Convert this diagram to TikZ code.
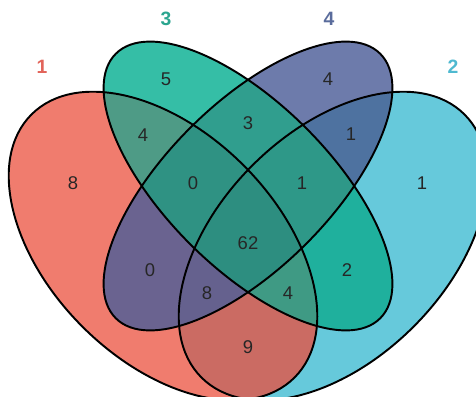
\documentclass[tikz,border=0pt]{standalone}
\usepackage{fontspec}
\setmainfont{Liberation Sans}
\usetikzlibrary{calc}

\definecolor{colone}{HTML}{F07C6E}
\definecolor{coltwo}{HTML}{66C9DB}
\definecolor{colthree}{HTML}{35BEA6}
\definecolor{colfour}{HTML}{6D7BAB}
\definecolor{colot}{HTML}{CB6B63}
\definecolor{coloth}{HTML}{4E9B86}
\definecolor{colof}{HTML}{6A6390}
\definecolor{coltth}{HTML}{1FB09D}
\definecolor{coltf}{HTML}{4E72A0}
\definecolor{colthf}{HTML}{309E8E}
\definecolor{colotth}{HTML}{3F9A84}
\definecolor{colotf}{HTML}{65618E}
\definecolor{colothf}{HTML}{2F9283}
\definecolor{coltthf}{HTML}{2E9888}
\definecolor{colall}{HTML}{2D8E80}
\definecolor{labone}{HTML}{E2645A}
\definecolor{labtwo}{HTML}{4FB9D0}
\definecolor{labthree}{HTML}{2AA58F}
\definecolor{labfour}{HTML}{5A6C9C}

\newcommand{\vennone}[1]{\path[#1, rotate around={-45:(163,-246)}] (163,-246) ellipse (186 and 114);}
\newcommand{\venntwo}[1]{\path[#1, rotate around={45:(333,-246)}] (333,-246) ellipse (186 and 114);}
\newcommand{\vennthree}[1]{\path[#1, rotate around={-45:(248,-186)}] (248,-186) ellipse (187 and 82);}
\newcommand{\vennfour}[1]{\path[#1, rotate around={45:(248,-186)}] (248,-186) ellipse (187 and 82);}

\begin{document}
\begin{tikzpicture}[x=0.02cm, y=0.02cm,
  every node/.style={font=\fontsize{10.5}{12}\selectfont, text=black!85},
  setlabel/.style={font=\fontsize{11}{12}\selectfont\bfseries}]
\useasboundingbox (0,0) rectangle (476,-396);
\vennone{fill=colone}
\venntwo{fill=coltwo}
\vennthree{fill=colthree}
\vennfour{fill=colfour}
\begin{scope} \vennone{clip} \venntwo{fill=colot} \end{scope}
\begin{scope} \vennone{clip} \vennthree{fill=coloth} \end{scope}
\begin{scope} \vennone{clip} \vennfour{fill=colof} \end{scope}
\begin{scope} \venntwo{clip} \vennthree{fill=coltth} \end{scope}
\begin{scope} \venntwo{clip} \vennfour{fill=coltf} \end{scope}
\begin{scope} \vennthree{clip} \vennfour{fill=colthf} \end{scope}
\begin{scope} \vennone{clip} \venntwo{clip} \vennthree{fill=colotth} \end{scope}
\begin{scope} \vennone{clip} \venntwo{clip} \vennfour{fill=colotf} \end{scope}
\begin{scope} \vennone{clip} \vennthree{clip} \vennfour{fill=colothf} \end{scope}
\begin{scope} \venntwo{clip} \vennthree{clip} \vennfour{fill=coltthf} \end{scope}
\begin{scope} \vennone{clip} \venntwo{clip} \vennthree{clip} \vennfour{fill=colall} \end{scope}
\foreach \v in {\vennone,\venntwo,\vennthree,\vennfour} {
  \v{draw=black, line width=1.1pt}
}
\node[setlabel, text=labone] (labA) at (42,-67) {1};
\node[setlabel, text=labtwo] (labB) at (453,-67) {2};
\node[setlabel, text=labthree] (labC) at (166,-19) {3};
\node[setlabel, text=labfour] (labD) at (329,-19) {4};
\foreach \x/\y/\n [count=\i] in {166/79/5, 328/79/4, 73/183/8, 422/183/1,
  143/135/4, 248/123/3, 351/134/1, 193/183/0, 302/183/1, 248/243/62,
  150/270/0, 347/270/2, 207/293/8, 288/293/4, 248/347/9} {
  \node (num\i) at (\x,-\y) {\n};
}
\end{tikzpicture}
\end{document}
